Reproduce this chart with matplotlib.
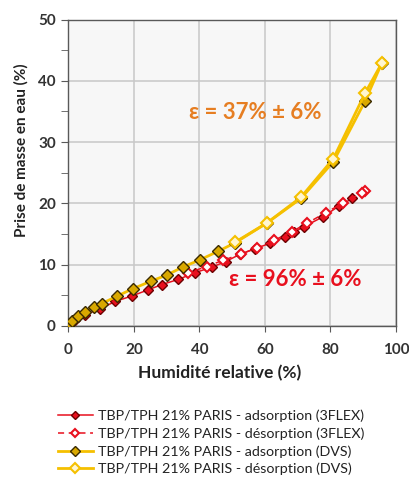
import matplotlib
matplotlib.use("Agg")
import matplotlib.pyplot as plt
from matplotlib.ticker import MultipleLocator

plt.rcParams['font.family'] = ['Lato', 'DejaVu Sans']

# 3FLEX adsorption / desorption
flex_ads_x = [0, 0.5, 2, 5, 9.7, 14.3, 19.4, 24.4, 28.5, 33.6, 38.7, 43.8, 48.0, 52.4, 57.0,
              61.6, 66.0, 69.0, 71.9, 77.7, 82.7, 86.7]
flex_ads_y = [0, 0.3, 1.0, 1.8, 2.8, 4.0, 4.9, 5.9, 6.75, 7.6, 8.7, 9.6, 10.5, 11.7, 12.6,
              13.5, 14.5, 15.3, 16.2, 17.8, 19.6, 20.8]
flex_des_x = [90.6, 89.6, 83.7, 78.6, 73.0, 68.3, 62.9, 57.7, 52.6, 47.1, 42.3, 36.6]
flex_des_y = [22.1, 21.7, 20.0, 18.5, 16.8, 15.4, 14.0, 12.8, 11.7, 10.7, 9.7, 8.7]

# DVS adsorption / desorption
dvs_ads_x = [0, 1.0, 3.0, 5.1, 7.8, 10.2, 15.0, 19.8, 25.2, 30.0, 34.9, 40.2, 45.8,
             51.0, 60.6, 71.0, 80.9, 90.6, 95.7]
dvs_ads_y = [0, 0.8, 1.6, 2.3, 3.1, 3.65, 4.9, 6.1, 7.3, 8.3, 9.6, 10.8, 12.2,
             13.6, 16.8, 20.8, 26.8, 36.7, 42.9]
dvs_des_x = [95.7, 90.6, 80.9, 71.0, 60.6, 51.0]
dvs_des_y = [42.9, 38.0, 27.3, 21.0, 16.8, 13.7]

red = '#e8101e'
gold = '#f5c000'

fig = plt.figure(figsize=(4.09, 4.88), dpi=100)
ax = fig.add_axes([0.167, 0.332, 0.801, 0.628])
ax.set_facecolor('#f7f7f7')

ax.plot(flex_ads_x, flex_ads_y, color=red, lw=1.1, marker='D', ms=5.5,
        mfc=red, mec='#6b0000', mew=1.0, zorder=3,
        label='TBP/TPH 21% PARIS - adsorption (3FLEX)')
ax.plot(flex_des_x, flex_des_y, color=red, lw=1.1, ls=(0, (4, 3)), marker='D', ms=5.5,
        mfc='white', mec=red, mew=1.5, zorder=4,
        label='TBP/TPH 21% PARIS - désorption (3FLEX)')
ax.plot(dvs_ads_x, dvs_ads_y, color=gold, lw=2.0, marker='D', ms=6.5,
        mfc='#d9a800', mec='#3a2a00', mew=1.0, zorder=5,
        label='TBP/TPH 21% PARIS - adsorption (DVS)')
ax.plot(dvs_des_x, dvs_des_y, color=gold, lw=2.0, marker='D', ms=6.5,
        mfc='#fff6d0', mec=gold, mew=1.5, zorder=6,
        label='TBP/TPH 21% PARIS - désorption (DVS)')

ax.text(57, 34.9, 'ε = 37% ± 6%', color='#e67e22', fontsize=16, fontweight='bold',
        ha='center', va='center')
ax.text(69.2, 7.6, 'ε = 96% ± 6%', color=red, fontsize=16, fontweight='bold',
        ha='center', va='center')

ax.set_xlim(0, 100)
ax.set_ylim(0, 50)
ax.xaxis.set_major_locator(MultipleLocator(20))
ax.yaxis.set_major_locator(MultipleLocator(10))
ax.yaxis.set_minor_locator(MultipleLocator(5))
ax.grid(True, color='#c8c8c8', lw=1.1, zorder=0)
ax.set_axisbelow(True)
for s in ax.spines.values():
    s.set_color('#595959')
    s.set_linewidth(1.0)
ax.tick_params(axis='y', which='both', length=5, color='#595959', labelsize=11,
               labelcolor='#333333', pad=4)
ax.tick_params(axis='x', length=4, color='#595959', labelsize=11, labelcolor='#333333',
               pad=8)
for lab in ax.get_xticklabels() + ax.get_yticklabels():
    lab.set_fontweight('bold')

ax.set_xlabel('Humidité relative (%)', fontsize=12.5, fontweight='bold', color='#222222')
ax.xaxis.set_label_coords(0.463, -0.128)
ax.set_ylabel('Prise de masse en eau (%)', fontsize=11, fontweight='bold', color='#222222')
ax.yaxis.set_label_coords(-0.12, 0.574)

fig.legend(loc='upper left', bbox_to_anchor=(0.125, 0.175), frameon=False, fontsize=10.3,
           handlelength=2.4, handletextpad=0.35, labelspacing=0.36, borderpad=0,
           markerscale=0.8, labelcolor='#222222')

fig.savefig('out.png', dpi=100)
